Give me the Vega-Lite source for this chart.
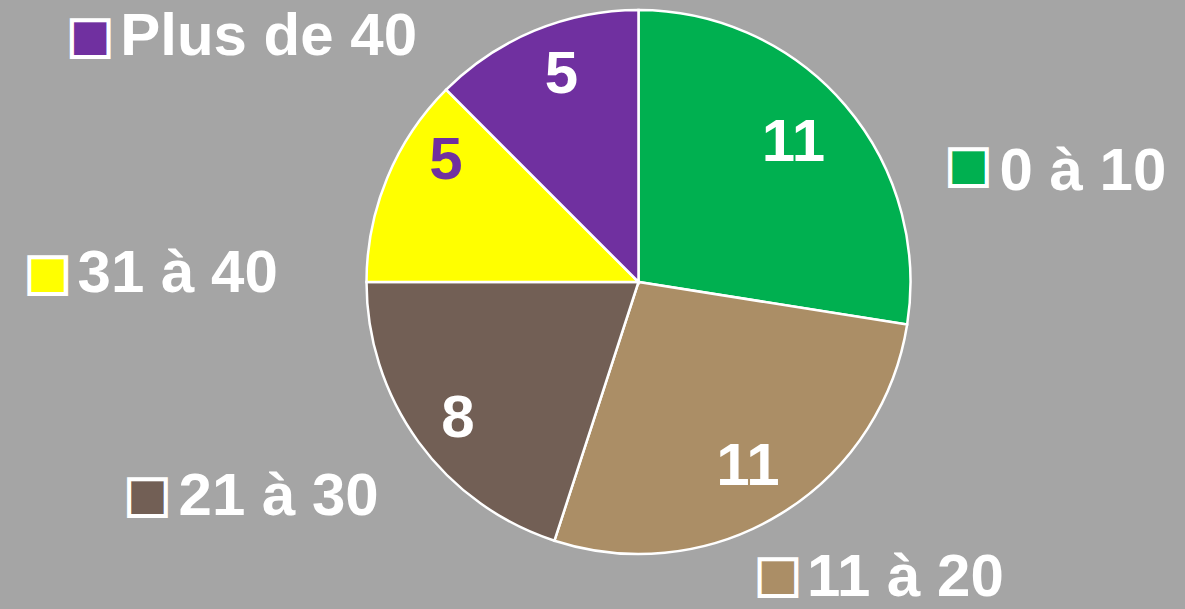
{
  "$schema": "https://vega.github.io/schema/vega-lite/v6.json",
  "width": 1093,
  "height": 564,
  "autosize": {"type": "none"},
  "padding": {"left": 92, "top": 0, "right": 0, "bottom": 45},
  "background": "#a5a5a5",
  "config": {"view": {"stroke": null}, "font": "Liberation Sans"},
  "data": {"values": [
    {"cat": "0 à 10", "n": 11},
    {"cat": "11 à 20", "n": 11},
    {"cat": "21 à 30", "n": 8},
    {"cat": "31 à 40", "n": 5},
    {"cat": "Plus de 40", "n": 5}
  ]},
  "encoding": {
    "theta": {"field": "n", "type": "quantitative", "stack": true},
    "order": {"field": "cat", "type": "nominal", "sort": "ascending"}
  },
  "layer": [
    {
      "mark": {"type": "arc", "outerRadius": 272, "stroke": "white", "strokeWidth": 2.5},
      "encoding": {
        "color": {"field": "cat", "type": "nominal", "legend": null,
          "scale": {"domain": ["0 à 10", "11 à 20", "21 à 30", "31 à 40", "Plus de 40"],
                    "range": ["#00b050", "#ab8e66", "#725f55", "#ffff00", "#7030a0"]}}
      }
    },
    {
      "mark": {"type": "text", "radius": 217, "fontSize": 60, "fontWeight": "bold", "fill": "white", "align": "center", "baseline": "middle", "dx": -10, "dy": 2},
      "encoding": {"text": {"field": "n", "type": "quantitative"},
        "opacity": {"condition": {"test": "datum.cat === '0 à 10'", "value": 1}, "value": 0}}
    },
    {
      "mark": {"type": "text", "radius": 217, "fontSize": 60, "fontWeight": "bold", "fill": "white", "align": "center", "baseline": "middle", "dx": -4, "dy": 0},
      "encoding": {"text": {"field": "n", "type": "quantitative"},
        "opacity": {"condition": {"test": "datum.cat === '11 à 20'", "value": 1}, "value": 0}}
    },
    {
      "mark": {"type": "text", "radius": 217, "fontSize": 60, "fontWeight": "bold", "fill": "white", "align": "center", "baseline": "middle", "dx": -5, "dy": 9},
      "encoding": {"text": {"field": "n", "type": "quantitative"},
        "opacity": {"condition": {"test": "datum.cat === '21 à 30'", "value": 1}, "value": 0}}
    },
    {
      "mark": {"type": "text", "radius": 217, "fontSize": 60, "fontWeight": "bold", "fill": "#7030a0", "align": "center", "baseline": "middle", "dx": 8, "dy": -38},
      "encoding": {"text": {"field": "n", "type": "quantitative"},
        "opacity": {"condition": {"test": "datum.cat === '31 à 40'", "value": 1}, "value": 0}}
    },
    {
      "mark": {"type": "text", "radius": 217, "fontSize": 60, "fontWeight": "bold", "fill": "white", "align": "center", "baseline": "middle", "dx": 6, "dy": -7},
      "encoding": {"text": {"field": "n", "type": "quantitative"},
        "opacity": {"condition": {"test": "datum.cat === 'Plus de 40'", "value": 1}, "value": 0}}
    },
    {
      "mark": {"type": "text", "radius": 330, "fontSize": 60, "fontWeight": "bold", "fill": "white", "align": "left", "baseline": "alphabetic", "dx": 110, "dy": 122},
      "encoding": {"text": {"field": "cat", "type": "nominal"},
        "opacity": {"condition": {"test": "datum.cat === '0 à 10'", "value": 1}, "value": 0}}
    },
    {
      "mark": {"type": "text", "radius": 330, "fontSize": 60, "fontWeight": "bold", "fill": "white", "align": "left", "baseline": "alphabetic", "dx": -4, "dy": 33},
      "encoding": {"text": {"field": "cat", "type": "nominal"},
        "opacity": {"condition": {"test": "datum.cat === '11 à 20'", "value": 1}, "value": 0}}
    },
    {
      "mark": {"type": "text", "radius": 330, "fontSize": 60, "fontWeight": "bold", "fill": "white", "align": "left", "baseline": "alphabetic", "dx": -193, "dy": 39},
      "encoding": {"text": {"field": "cat", "type": "nominal"},
        "opacity": {"condition": {"test": "datum.cat === '21 à 30'", "value": 1}, "value": 0}}
    },
    {
      "mark": {"type": "text", "radius": 330, "fontSize": 60, "fontWeight": "bold", "fill": "white", "align": "left", "baseline": "alphabetic", "dx": -256, "dy": 136},
      "encoding": {"text": {"field": "cat", "type": "nominal"},
        "opacity": {"condition": {"test": "datum.cat === '31 à 40'", "value": 1}, "value": 0}}
    },
    {
      "mark": {"type": "text", "radius": 330, "fontSize": 60, "fontWeight": "bold", "fill": "white", "align": "left", "baseline": "alphabetic", "dx": -392, "dy": 78},
      "encoding": {"text": {"field": "cat", "type": "nominal"},
        "opacity": {"condition": {"test": "datum.cat === 'Plus de 40'", "value": 1}, "value": 0}}
    },
    {
      "mark": {"type": "text", "radius": 330, "font": "DejaVu Sans", "fontSize": 48, "stroke": "white", "strokeWidth": 4, "align": "center", "baseline": "middle", "dx": 79, "dy": 98, "text": "■"},
      "encoding": {
        "color": {"field": "cat", "type": "nominal", "legend": null},
        "opacity": {"condition": {"test": "datum.cat === '0 à 10'", "value": 1}, "value": 0}}
    },
    {
      "mark": {"type": "text", "radius": 330, "font": "DejaVu Sans", "fontSize": 48, "stroke": "white", "strokeWidth": 4, "align": "center", "baseline": "middle", "dx": -33, "dy": 13, "text": "■"},
      "encoding": {
        "color": {"field": "cat", "type": "nominal", "legend": null},
        "opacity": {"condition": {"test": "datum.cat === '11 à 20'", "value": 1}, "value": 0}}
    },
    {
      "mark": {"type": "text", "radius": 330, "font": "DejaVu Sans", "fontSize": 48, "stroke": "white", "strokeWidth": 4, "align": "center", "baseline": "middle", "dx": -224, "dy": 20, "text": "■"},
      "encoding": {
        "color": {"field": "cat", "type": "nominal", "legend": null},
        "opacity": {"condition": {"test": "datum.cat === '21 à 30'", "value": 1}, "value": 0}}
    },
    {
      "mark": {"type": "text", "radius": 330, "font": "DejaVu Sans", "fontSize": 48, "stroke": "white", "strokeWidth": 4, "align": "center", "baseline": "middle", "dx": -286, "dy": 118, "text": "■"},
      "encoding": {
        "color": {"field": "cat", "type": "nominal", "legend": null},
        "opacity": {"condition": {"test": "datum.cat === '31 à 40'", "value": 1}, "value": 0}}
    },
    {
      "mark": {"type": "text", "radius": 330, "font": "DejaVu Sans", "fontSize": 48, "stroke": "white", "strokeWidth": 4, "align": "center", "baseline": "middle", "dx": -422, "dy": 60, "text": "■"},
      "encoding": {
        "color": {"field": "cat", "type": "nominal", "legend": null},
        "opacity": {"condition": {"test": "datum.cat === 'Plus de 40'", "value": 1}, "value": 0}}
    }
  ]
}
